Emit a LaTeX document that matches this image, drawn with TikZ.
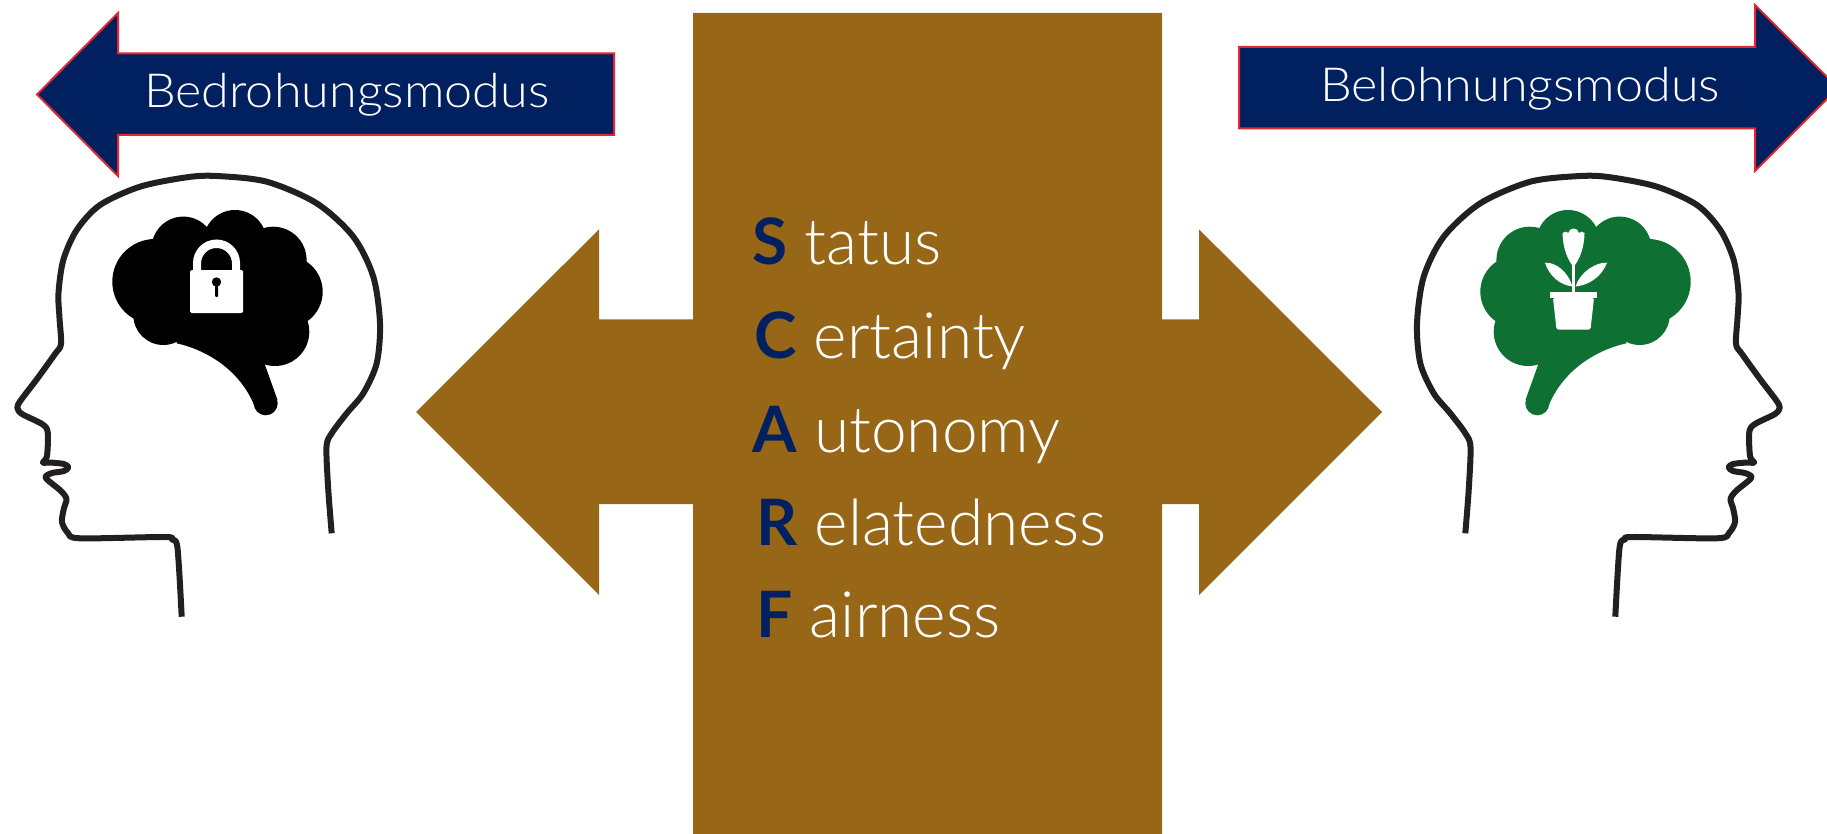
\documentclass[tikz,border=0pt]{standalone}
\usepackage{fontspec}
\setmainfont{Lato}
\newfontfamily\lightfont{Lato Light}
\definecolor{navy}{RGB}{0,32,96}
\definecolor{arrowred}{RGB}{226,40,44}
\definecolor{scarfbrown}{RGB}{152,102,23}
\definecolor{headgray}{RGB}{35,31,32}
\definecolor{leafgreen}{RGB}{15,112,52}
\newcommand\scarfcap[1]{{\normalfont\bfseries\color{navy}#1}}
\newcommand\widetext[1]{\scalebox{1.07}[1]{#1}}

\tikzset{
  modearrow/.style={fill=navy, draw=arrowred, line width=2pt, line join=miter},
  modelabel/.style={anchor=base west, inner sep=0pt, text=white,
    font=\lightfont\fontsize{47}{50}\selectfont},
  scarfline/.style={anchor=base west, inner sep=0pt, text=white,
    font=\lightfont\fontsize{64}{70}\selectfont},
  headline/.style={draw=headgray, line width=6pt, line join=round},
  % profile of a head looking to the left
  head/.pic={
    \draw[headline] plot[smooth, tension=0.5] coordinates {
      (181.7,616.7) (177.5,548) (172,539.5) (164,537) (80,538.3) (68,533)
      (62,522) (64,508) (66.5,499) (61,491) (47,479.5) (46,476) (52,473)
      (64,471) (68.3,467.3) (64,464) (50,462.5) (43,462.5) (47,456)
      (47.7,432) (42,424) (22,414) (17.3,407.5) (21,400) (37,379) (55,354)
      (61,344) (59.5,318) (58.5,293) (63.3,260) (76.7,230) (100,205)
      (140,186.7) (186.7,177.3) (216.7,176) (266.7,181.7) (316.7,203.3)
      (353.3,236.7) (373.3,276.7) (380,323.3) (376.7,363.3) (363.3,393.3)
      (346.7,413.3) (331.7,433.3) (326.5,447) (328.3,490) (331.7,533.3)};
  },
  % brain silhouette built from overlapping lobes
  brain/.pic={
    \fill[#1] (155,281.7) circle[radius=42.7pt]
              (163.3,315) circle[radius=30pt]
              (183.3,248.3) circle[radius=31.7pt]
              (235,241.7) circle[radius=31.7pt]
              (273.3,260) circle[radius=33.3pt]
              (286.7,291.7) circle[radius=36pt]
              (275,331.7) circle[radius=34.3pt]
              (265.7,403.3) circle[radius=12pt];
    \fill[#1] (153.3,290) -- (183.3,256.7) -- (266.7,256.7) -- (300,296.7)
              -- (286.7,346.7) -- (233.3,356.7) -- (183.3,340) -- cycle;
    \fill[#1] (176.7,343.3) .. controls (206.7,350) and (240,370) .. (254.5,406)
              -- (277.5,400) -- (265,365) -- (266.7,323.3) -- (176.7,323.3) -- cycle;
  }
}

\begin{document}
\begin{tikzpicture}[x=1pt,y=-1pt]
\useasboundingbox (0,0) rectangle (1827,834);
\clip (0,0) rectangle (1827,834);

% central double arrow carrying the SCARF model
\fill[scarfbrown] (693,13) -- (1162,13) -- (1162,319.3) -- (1199,319.3)
  -- (1199,229.3) -- (1382,412) -- (1199,595) -- (1199,504) -- (1162,504)
  -- (1162,840) -- (693,840) -- (693,504) -- (599,504) -- (599,595)
  -- (416,412) -- (599,229.3) -- (599,319.3) -- (693,319.3) -- cycle;

\node[scarfline] (status)      at (752,265) {\scarfcap{S} tatus};
\node[scarfline] (certainty)   at (754,358) {\scarfcap{C} ertainty};
\node[scarfline] (autonomy)    at (752,452) {\scarfcap{A} utonomy};
\node[scarfline] (relatedness) at (756,545) {\scarfcap{R} elatedness};
\node[scarfline] (fairness)    at (756,637) {\scarfcap{F} airness};

% mode arrows
\draw[modearrow] (37,94.5) -- (118,13) -- (118,53.5) -- (614,53.5)
  -- (614,135) -- (118,135) -- (118,176) -- cycle;
\node[modelabel] (threat) at (144,108) {\widetext{Bedrohungsmodus}};

\draw[modearrow] (1239,47) -- (1755,47) -- (1755,5) -- (1838,88)
  -- (1755,171) -- (1755,128.3) -- (1239,128.3) -- cycle;
\node[modelabel] (reward) at (1320,102) {\widetext{Belohnungsmodus}};

% left head: threatened brain with a padlock
\pic {head};
\pic {brain=black};
\fill[white, rounded corners=1.5pt] (190,270) rectangle (243,313);
\fill[white, even odd rule] (193,271) -- (193,263) arc[start angle=180, end angle=0, radius=23.5pt]
  -- (240,271) -- cycle
  (201,271) -- (201,263.5) arc[start angle=180, end angle=0, radius=15.5pt]
  -- (232,271) -- cycle;
\fill[black] (216.5,282) circle[radius=4.7pt];
\fill[black, rounded corners=1pt] (215,282) rectangle (218,297);

% right head: rewarded brain with a potted flower (mirrored profile)
\pic[xscale=-1] at (1797,0) {head};
\pic[xscale=-1] at (1803,0) {brain=leafgreen};
\fill[white] (1550,292) rectangle (1597,298.3);
\fill[white, rounded corners=1.5pt] (1553,298) -- (1594,298) -- (1590.5,329.5)
  -- (1556.5,329.5) -- cycle;
\fill[white] (1572,265) rectangle (1575,293);
\fill[white] (1573.5,267) .. controls (1568,260) and (1563,250) .. (1562.5,233)
  .. controls (1564.5,231) and (1567,231.5) .. (1568.3,233)
  .. controls (1569,227) and (1578,227) .. (1579,233)
  .. controls (1580.5,231.5) and (1583,231) .. (1584.5,233)
  .. controls (1584,250) and (1579,260) .. (1573.5,267) -- cycle;
\fill[white] (1545,262.7) .. controls (1556,262) and (1568,272) .. (1572.5,286.5)
  .. controls (1560,285) and (1549,276) .. cycle;
\fill[white] (1607,262.7) .. controls (1596,262) and (1580,272) .. (1575.5,286.5)
  .. controls (1590,285) and (1602,276) .. cycle;
\end{tikzpicture}
\end{document}
